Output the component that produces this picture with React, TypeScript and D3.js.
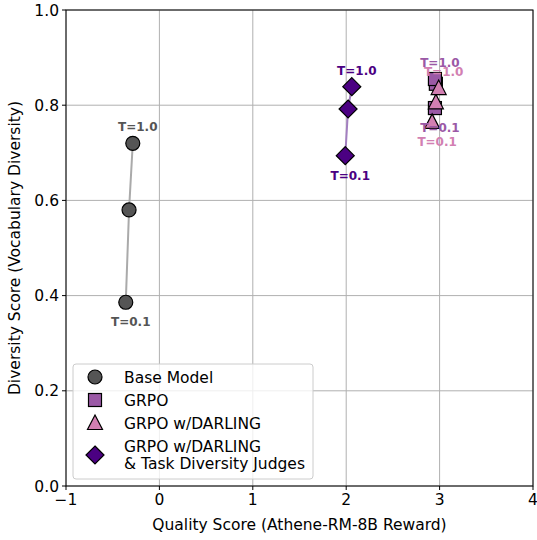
import React from "react";
import * as d3 from "d3";

const seriesNames = ["Base Model", "GRPO", "GRPO w/DARLING", "GRPO w/DARLING\n& Task Diversity Judges"];
const seriesColors = ["#555555", "#9b59a6", "#d27fb2", "#4b0082"];
const lineColors = ["#aaaaaa", "#cdabd2", "#e8bfd8", "#a37fc0"];
const seriesShapes = ["circle", "square", "triangle", "diamond"];
// points ordered T=0.1, T=0.5, T=1.0
const baseX = [-0.36, -0.325, -0.285];
const baseY = [0.386, 0.58, 0.72];
const grpoX = [2.95, 2.96, 2.95];
const grpoY = [0.794, 0.845, 0.855];
const darlingX = [2.92, 2.96, 2.99];
const darlingY = [0.765, 0.806, 0.836];
const judgesX = [1.99, 2.02, 2.06];
const judgesY = [0.694, 0.792, 0.839];
const xTicks = [-1, 0, 1, 2, 3, 4];
const yTicks = [0, 0.2, 0.4, 0.6, 0.8, 1.0];
const lowLabel = "T=0.1";
const highLabel = "T=1.0";

const allX = [baseX, grpoX, darlingX, judgesX];
const allY = [baseY, grpoY, darlingY, judgesY];

function Marker({ shape, x, y, color }: { shape: string; x: number; y: number; color: string }) {
  const common = { fill: color, stroke: "#000", strokeWidth: 1.2 };
  if (shape === "circle") return <circle cx={x} cy={y} r={7} {...common} />;
  if (shape === "square") return <rect x={x - 6.5} y={y - 6.5} width={13} height={13} {...common} />;
  if (shape === "triangle")
    return <path d={`M${x},${y - 8} L${x + 7.5},${y + 6.5} L${x - 7.5},${y + 6.5} Z`} {...common} />;
  return <path d={`M${x},${y - 9} L${x + 9},${y} L${x},${y + 9} L${x - 9},${y} Z`} {...common} />;
}

export default function App() {
  const W = 537, H = 540;
  const left = 66, right = 533, top = 10, bottom = 486;
  const x = d3.scaleLinear().domain([-1, 4]).range([left, right]);
  const y = d3.scaleLinear().domain([0, 1]).range([bottom, top]);
  const line = d3.line<number>();
  const font = "DejaVu Sans, sans-serif";
  const fs = 15.5;

  return (
    <svg width={W} height={H} style={{ position: "absolute", left: 0, top: 0, background: "#fff" }} fontFamily={font}>
      {/* grid */}
      {xTicks.map((t) => (
        <line key={"gx" + t} x1={x(t)} x2={x(t)} y1={top} y2={bottom} stroke="#b0b0b0" strokeWidth={1} />
      ))}
      {yTicks.map((t) => (
        <line key={"gy" + t} x1={left} x2={right} y1={y(t)} y2={y(t)} stroke="#b0b0b0" strokeWidth={1} />
      ))}
      {/* lines */}
      {allX.map((xs, i) => (
        <path
          key={"l" + i}
          d={line(xs.map((v, j) => [x(v), y(allY[i][j])]) as any) || ""}
          fill="none"
          stroke={lineColors[i]}
          strokeWidth={2}
        />
      ))}
      {/* markers */}
      {allX.map((xs, i) =>
        xs.map((v, j) => (
          <Marker key={"m" + i + j} shape={seriesShapes[i]} x={x(v)} y={y(allY[i][j])} color={seriesColors[i]} />
        ))
      )}
      {/* labels */}
      {allX.map((xs, i) => (
        <g key={"t" + i} fill={seriesColors[i]} fontWeight="bold" fontSize={12} textAnchor="middle">
          <text x={x(xs[2]) + 5} y={y(allY[i][2]) - 12}>{highLabel}</text>
          <text x={x(xs[0]) + 5} y={y(allY[i][0]) + 24}>{lowLabel}</text>
        </g>
      ))}
      {/* frame */}
      <rect x={left} y={top} width={right - left} height={bottom - top} fill="none" stroke="#000" strokeWidth={1} />
      {/* x ticks */}
      {xTicks.map((t) => (
        <g key={"xt" + t}>
          <line x1={x(t)} x2={x(t)} y1={bottom} y2={bottom + 4} stroke="#000" />
          <text x={x(t)} y={bottom + 19} fontSize={fs} textAnchor="middle">
            {t < 0 ? "\u2212" + Math.abs(t) : t}
          </text>
        </g>
      ))}
      {yTicks.map((t) => (
        <g key={"yt" + t}>
          <line x1={left - 4} x2={left} y1={y(t)} y2={y(t)} stroke="#000" />
          <text x={left - 7} y={y(t) + 5.5} fontSize={fs} textAnchor="end">
            {t.toFixed(1)}
          </text>
        </g>
      ))}
      <text x={(left + right) / 2} y={530} fontSize={fs} textAnchor="middle">
        Quality Score (Athene-RM-8B Reward)
      </text>
      <text transform={`translate(20,${(top + bottom) / 2}) rotate(-90)`} fontSize={fs} textAnchor="middle">
        Diversity Score (Vocabulary Diversity)
      </text>
      {/* legend */}
      <g>
        <rect x={73} y={364} width={240} height={115} rx={3} fill="#fff" fillOpacity={0.8} stroke="#cccccc" />
        {seriesNames.map((name, i) => {
          const rowY = [377, 400, 423, 455][i];
          const lines = name.split("\n");
          return (
            <g key={"lg" + i}>
              <Marker shape={seriesShapes[i]} x={95} y={rowY} color={seriesColors[i]} />
              {lines.map((ln, k) => (
                <text key={k} x={124} y={rowY + 5.5 + (lines.length > 1 ? (k - 0.5) * 17 : 0)} fontSize={fs}>
                  {ln}
                </text>
              ))}
            </g>
          );
        })}
      </g>
    </svg>
  );
}
